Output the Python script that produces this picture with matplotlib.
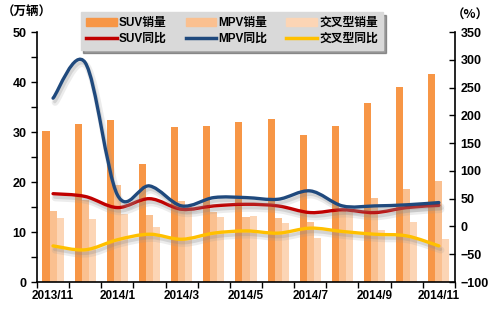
import matplotlib
matplotlib.use("Agg")
import matplotlib.pyplot as plt
import matplotlib.patheffects as pe
from matplotlib.lines import Line2D
from matplotlib.patches import Patch, PathPatch
from matplotlib.path import Path
import numpy as np

plt.rcParams["font.family"] = ["Liberation Sans", "Noto Sans CJK SC", "DejaVu Sans"]
plt.rcParams["font.weight"] = "bold"

# 月份
months = ["2013/11", "2013/12", "2014/1", "2014/2", "2014/3", "2014/4", "2014/5",
          "2014/6", "2014/7", "2014/8", "2014/9", "2014/10", "2014/11"]

# 销量（万辆）
suv_sales = [30.2, 31.6, 32.4, 23.7, 31.0, 31.2, 32.0, 32.6, 29.4, 31.2, 35.8, 39.0, 41.6]
mpv_sales = [14.2, 16.5, 19.4, 13.4, 16.2, 14.1, 13.0, 12.8, 12.0, 14.5, 16.8, 18.6, 20.2]
cross_sales = [12.9, 12.6, 13.7, 11.1, 15.5, 13.1, 13.2, 11.8, 8.8, 14.0, 10.4, 12.0, 8.6]

# 同比增速（%）
suv_yoy = [59, 54, 34, 50, 31, 37, 40, 37, 25, 30, 25, 34, 38]
mpv_yoy = [231, 295, 57, 73, 37, 52, 52, 49, 64, 37, 37, 39, 43]
cross_yoy = [-35, -42, -24, -14, -23, -12, -8, -12, -3, -9, -14, -17, -35]

c_suv, c_mpv, c_cross = "#F79646", "#FAC090", "#FCD5B5"
c_suv_l, c_mpv_l, c_cross_l = "#C00000", "#1F497D", "#FFC000"


def smooth_path(xs, ys):
    # Catmull-Rom 平滑曲线，转成三次贝塞尔
    pts = np.column_stack([xs, ys]).astype(float)
    n = len(pts)
    verts = [pts[0]]
    codes = [Path.MOVETO]
    for i in range(n - 1):
        p0 = pts[max(i - 1, 0)]
        p1 = pts[i]
        p2 = pts[i + 1]
        p3 = pts[min(i + 2, n - 1)]
        verts += [p1 + (p2 - p0) / 6, p2 - (p3 - p1) / 6, p2]
        codes += [Path.CURVE4] * 3
    return Path(verts, codes)


fig = plt.figure(figsize=(4.95, 3.25), dpi=100)
ax = fig.add_axes([0.0747, 0.1323, 0.8444, 0.769])

x = np.arange(len(months))
w = 0.22
ax.bar(x - w, suv_sales, w, color=c_suv, zorder=2)
ax.bar(x, mpv_sales, w, color=c_mpv, zorder=2)
ax.bar(x + w, cross_sales, w, color=c_cross, zorder=2)

ax.set_xlim(-0.5, len(months) - 0.5)
ax.set_ylim(0, 50)
ax.set_yticks(range(0, 51, 10))
ax.set_yticks(range(5, 50, 10), minor=True)
ax.set_xticks(x[::2])
ax.set_xticklabels(months[::2])
ax.set_xticks(np.arange(-0.5, len(months), 1), minor=True)
ax.tick_params(axis="x", which="major", length=0, labelsize=8.5, pad=6)
ax.tick_params(axis="x", which="minor", length=4, width=1)
ax.tick_params(axis="y", which="both", length=4, width=1, labelsize=9)
ax.spines["top"].set_visible(False)
ax.spines["right"].set_visible(False)
for s in ["left", "bottom"]:
    ax.spines[s].set_linewidth(1.2)

ax2 = ax.twinx()
ax2.set_ylim(-100, 350)
ax2.set_yticks(range(-100, 351, 50))
ax2.tick_params(axis="y", length=4, width=1, direction="in", labelsize=9, pad=4)
for s in ["top", "left", "bottom"]:
    ax2.spines[s].set_visible(False)
ax2.spines["right"].set_linewidth(1.2)

# 折线带柔和阴影
shadow = [pe.SimpleLineShadow(offset=(1.5, -3), shadow_color="#9a9a9a", alpha=0.18,
                              linewidth=5),
          pe.SimpleLineShadow(offset=(1.2, -2.5), shadow_color="#8a8a8a", alpha=0.25),
          pe.Normal()]
for ys, col in [(suv_yoy, c_suv_l), (mpv_yoy, c_mpv_l), (cross_yoy, c_cross_l)]:
    patch = PathPatch(smooth_path(x, ys), fill=False, edgecolor=col, lw=2.4,
                      capstyle="round", joinstyle="round")
    patch.set_path_effects(shadow)
    ax2.add_patch(patch)

fig.text(0.004, 0.962, "（万辆）", fontsize=9, fontweight="bold",
         family=["Noto Sans CJK SC", "DejaVu Sans"], va="center", ha="left")
fig.text(0.988, 0.952, "（%）", fontsize=9, fontweight="bold",
         family=["Noto Sans CJK SC", "DejaVu Sans"], va="center", ha="right")

handles = [
    Patch(color=c_suv), Line2D([], [], color=c_suv_l, lw=2.5),
    Patch(color=c_mpv), Line2D([], [], color=c_mpv_l, lw=2.5),
    Patch(color=c_cross), Line2D([], [], color=c_cross_l, lw=2.5),
]
labels = ["SUV销量", "SUV同比", "MPV销量", "MPV同比", "交叉型销量", "交叉型同比"]
leg = fig.legend(handles, labels, ncol=3, loc="center",
                 bbox_to_anchor=(232 / 495, 1 - 31 / 325),
                 prop={"family": ["Liberation Sans", "Noto Sans CJK SC"],
                       "weight": "bold", "size": 8.5},
                 frameon=True, fancybox=False, shadow=True,
                 handlelength=2.6, handleheight=0.6, handletextpad=0.2,
                 columnspacing=1.6, labelspacing=0.3, borderpad=0.45)
leg.get_frame().set_facecolor("#D9D9D9")
leg.get_frame().set_edgecolor("#D9D9D9")
leg.get_frame().set_alpha(1)

fig.savefig("out.png", dpi=100)
